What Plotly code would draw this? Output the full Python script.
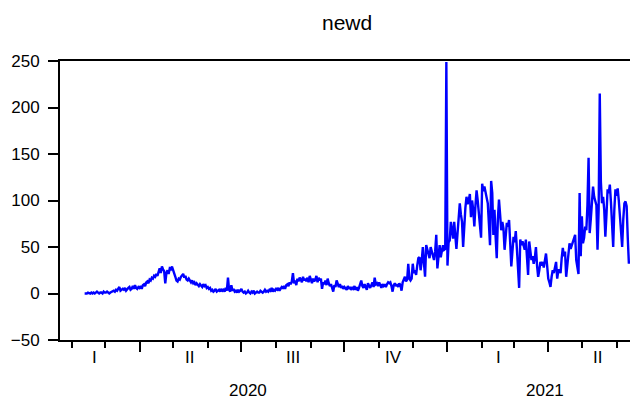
import pandas as pd
import plotly.graph_objects as go

# ---- data (daily new deaths) ----
start_date = "2020-02-12"

q1_2020 = [0, 0, 0, 1, 0, 0, 1, 0, 1, 0, 1, 2, 1, 0, 1, 1, 0, 2, 1, 1, 2, 1, 0, 1, 2,
           2, 3, 2, 4, 3, 5, 7, 3, 4, 5,
           4, 6, 3, 5, 6, 7, 4, 5, 8, 5,
           9, 6, 5, 7]

q2_2020 = [6, 8, 5, 9, 10, 8, 12,
           13, 11, 15, 14, 17, 16, 19, 18, 21, 19, 23,
           27, 22, 29, 26, 24, 11,
           22, 25, 21, 27, 26, 29,
           26, 22, 18, 14, 13, 16, 15,
           18, 20, 21, 17, 19, 15, 14,
           16, 13, 12, 14, 11, 12, 9,
           11, 10, 8, 10, 9, 7, 10,
           8, 9, 6, 7, 5, 6, 3,
           4, 2, 3, 5, 2, 3, 4,
           2, 5, 3, 4, 2, 6, 3,
           17, 4, 2, 9, 3, 5, 2,
           3, 1, 4, 2, 3]

q3_2020 = [5, 2,
           1, 2, 0, 1, 3, 1, 0,
           2, 1, 3, 0, 1, 2, 1,
           1, 3, 2, 1, 2, 4, 2,
           3, 2, 4, 3, 6, 2, 4,
           3, 5, 4, 6, 3, 5, 7,
           6, 8, 5, 9, 10, 8, 12,
           10, 13, 22, 11, 14, 9, 16,
           13, 17, 15, 12, 18, 14, 16,
           13, 17, 12, 19, 14, 11, 16,
           13, 15, 19, 12, 17, 14, 16,
           5, 12, 10, 14, 9, 16, 11,
           8, 10, 6, 2, 9, 7, 14,
           9, 7, 10, 6, 8, 5]

q4_2020 = [7,
           6, 4, 8, 5, 7, 4, 6,
           5, 8, 4, 7, 3, 6, 9,
           14, 8, 6, 10, 7, 4, 11,
           8, 6, 9, 12, 7, 17, 10,
           11, 8, 12, 9, 6, 10, 8,
           9, 7, 10, 12, 11, 12, 8,
           2, 9, 11, 8, 10, 7, 11,
           9, 3, 12, 15, 18, 13, 15,
           32, 16, 14, 16, 32, 22, 25,
           20, 30, 38, 39, 25, 35, 50,
           33, 18, 52, 47, 42, 38, 50,
           44, 40, 36, 45, 63, 27, 40,
           52, 39, 45, 52, 47, 48, 249]

q1_2021 = [30, 55, 57, 77, 68, 59, 77,
           62, 48, 65, 80, 97, 85, 77,
           50, 79, 92, 104, 96, 100, 107,
           82, 100, 90, 72, 95, 111, 100,
           88, 76, 60, 118, 110, 115, 108,
           104, 97, 75, 52, 121, 108, 63,
           90, 61, 38, 80, 101, 85, 68,
           77, 70, 47, 67, 76, 72, 79,
           55, 29, 45, 61, 55, 67, 48,
           30, 6, 58, 52, 56, 50, 47,
           58, 35, 20, 56, 45, 36, 40,
           32, 38, 50, 30, 18, 25, 34,
           30, 34, 28, 36, 43, 30]

q2_2021 = [16, 12, 7, 18, 25, 22, 29,
           34, 16, 25, 25, 22, 38, 49,
           40, 45, 18, 30, 42, 54, 48,
           52, 56, 60, 63, 36, 25, 21,
           108, 40, 83, 54, 60, 72, 68,
           95, 146, 65, 80, 100, 115, 104,
           98, 95, 47, 90, 215, 120, 97,
           104, 90, 61, 85, 112, 108, 117,
           98, 75, 50, 90, 112, 105, 113,
           100, 79, 60, 50, 80, 97, 99,
           94, 60, 32]

newd = q1_2020 + q2_2020 + q3_2020 + q4_2020 + q1_2021 + q2_2021
dates = pd.date_range(start_date, periods=len(newd), freq="D")

x_range = ["2020-01-21", "2021-06-13"]
y_ticks = [-50, 0, 50, 100, 150, 200, 250]

quarter_labels = ["I", "II", "III", "IV", "I", "II"]
quarter_label_dates = ["2020-02-21", "2020-05-16", "2020-08-16", "2020-11-14",
                       "2021-02-16", "2021-05-15"]
year_labels = ["2020", "2021"]
year_label_dates = ["2020-07-07", "2021-03-29"]

FONT = "Arial, Liberation Sans, sans-serif"
TICK_SIZE = 17

fig = go.Figure()
fig.add_trace(go.Scatter(x=dates, y=newd, mode="lines",
                         line=dict(color="#0000FF", width=2.4),
                         hoverinfo="skip", showlegend=False))

annotations = []
for t, d in zip(quarter_labels, quarter_label_dates):
    annotations.append(dict(text=t, x=d, xref="x", y=-0.0645, yref="paper",
                            xanchor="center", yanchor="middle", showarrow=False,
                            font=dict(family=FONT, size=TICK_SIZE, color="#000")))
for t, d in zip(year_labels, year_label_dates):
    annotations.append(dict(text=t, x=d, xref="x", y=-0.18, yref="paper",
                            xanchor="center", yanchor="middle", showarrow=False,
                            font=dict(family=FONT, size=TICK_SIZE, color="#000")))

fig.update_layout(
    width=630, height=401,
    margin=dict(l=60, r=0, t=61, b=61),
    paper_bgcolor="white", plot_bgcolor="white",
    title=dict(text="newd", x=0.551, xref="container", xanchor="center",
               y=1 - 23 / 401, yref="container", yanchor="middle",
               font=dict(family=FONT, size=21, color="#000")),
    xaxis=dict(type="date", range=x_range, showgrid=False, zeroline=False,
               showline=True, linecolor="#000", linewidth=2, mirror=True,
               ticks="outside", ticklen=10, tickwidth=2, tickcolor="#000",
               dtick="M3", tick0="2020-01-01", showticklabels=False,
               minor=dict(dtick="M1", tick0="2020-01-01", ticks="outside",
                          ticklen=6, tickwidth=2, tickcolor="#000", showgrid=False)),
    yaxis=dict(range=[-50, 250], tickvals=y_ticks, showgrid=False, zeroline=False,
               showline=True, linecolor="#000", linewidth=2, mirror=False,
               ticks="outside", ticklen=10, tickwidth=2, tickcolor="#000",
               ticklabelstandoff=5,
               tickfont=dict(family=FONT, size=TICK_SIZE, color="#000")),
    annotations=annotations,
)

fig.write_html("out.html", config={"displayModeBar": False},
               post_script="document.body.style.margin='0';document.body.style.padding='0';")
